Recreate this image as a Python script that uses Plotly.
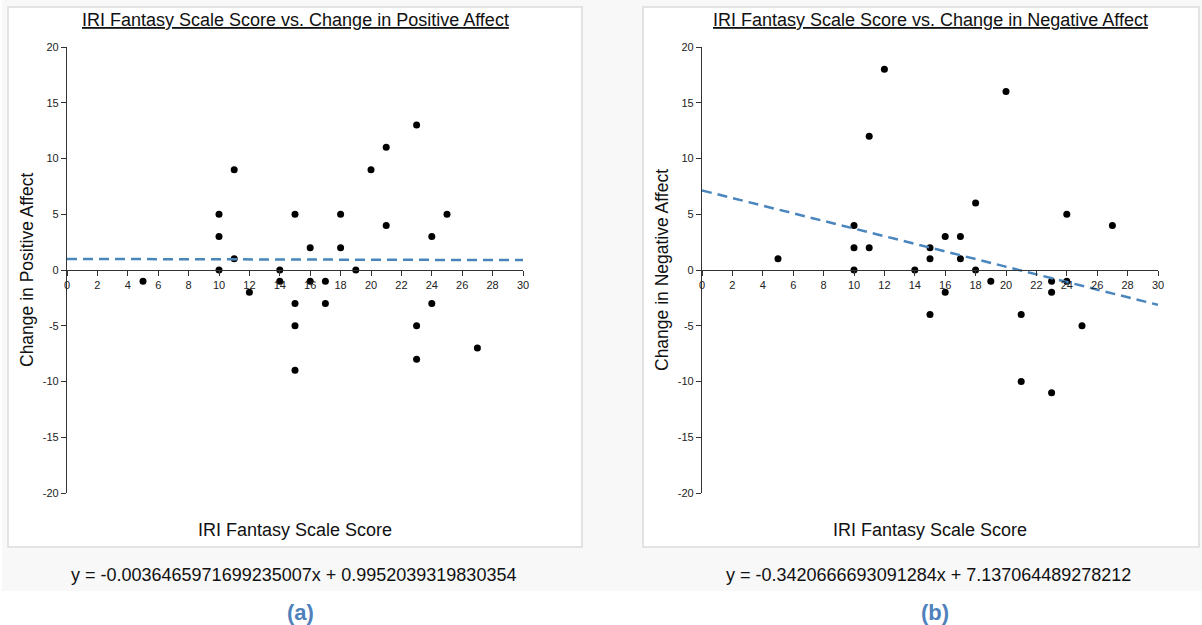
import plotly.graph_objects as go

W, H = 1202, 625

# IRI Fantasy Scale scores and change in positive affect
pos_x = [5, 10, 10, 10, 11, 11, 12, 14, 14, 15, 15, 15, 15, 16, 16,
         17, 17, 18, 18, 19, 20, 21, 21, 23, 23, 23, 24, 24, 25, 27]
pos_y = [-1, 5, 3, 0, 9, 1, -2, 0, -1, 5, -3, -5, -9, 2, -1,
         -1, -3, 5, 2, 0, 9, 11, 4, 13, -5, -8, 3, -3, 5, -7]

# IRI Fantasy Scale scores and change in negative affect
neg_x = [5, 10, 10, 10, 11, 11, 12, 14, 15, 15, 15, 16, 16, 17,
         17, 18, 18, 19, 20, 21, 21, 23, 23, 23, 24, 24, 25, 27]
neg_y = [1, 4, 2, 0, 12, 2, 18, 0, 2, 1, -4, 3, -2, 3,
         1, 6, 0, -1, 16, -4, -10, -1, -2, -11, 5, -1, -5, 4]

# least-squares fits
pos_slope, pos_intercept = -0.0036465971699235007, 0.9952039319830354
neg_slope, neg_intercept = -0.3420666693091284, 7.137064489278212

x_ticks = list(range(0, 31, 2))
y_ticks = list(range(-20, 21, 5))
x_tick_text = [str(v) for v in x_ticks]
y_tick_text = [str(v) for v in y_ticks]

FONT = "Liberation Sans, Arial, Helvetica, sans-serif"


def px(x):
    return x / W


def py(y):
    return 1 - y / H


fig = go.Figure()

panels = [
    dict(xs=pos_x, ys=pos_y, slope=pos_slope, icpt=pos_intercept,
         title="IRI Fantasy Scale Score vs. Change in Positive Affect",
         ytitle="Change in Positive Affect", label="(a)",
         ax0=67, ax1=523, box=(8, 582), center=295, ytx=27),
    dict(xs=neg_x, ys=neg_y, slope=neg_slope, icpt=neg_intercept,
         title="IRI Fantasy Scale Score vs. Change in Negative Affect",
         ytitle="Change in Negative Affect", label="(b)",
         ax0=702, ax1=1158, box=(643, 1199), center=930, ytx=662),
]

y_top, y_bot, y_zero = 47, 493, 270

shapes = [
    # light backdrop behind both panels and equations
    dict(type="rect", xref="paper", yref="paper", x0=px(2), x1=px(1202),
         y0=py(591), y1=py(0), fillcolor="#f8f8f8", line=dict(width=0), layer="below"),
]
annotations = []


def note(text, x, y, size, color="#111", angle=0):
    return dict(text=text, x=px(x), y=py(y), xref="paper", yref="paper",
                xanchor="center", yanchor="middle", showarrow=False,
                textangle=angle, font=dict(family=FONT, size=size, color=color))


for i, p in enumerate(panels):
    suffix = "" if i == 0 else "2"
    xa, ya = "x" + suffix, "y" + suffix
    fig.add_trace(go.Scatter(
        x=p["xs"], y=p["ys"], mode="markers",
        marker=dict(color="black", size=7, line=dict(width=0)),
        xaxis=xa, yaxis=ya, showlegend=False, cliponaxis=False,
    ))
    fx = [0, 30]
    fy = [p["slope"] * v + p["icpt"] for v in fx]
    fig.add_trace(go.Scatter(
        x=fx, y=fy, mode="lines",
        line=dict(color="#4a86bd", width=2.5, dash="10px,6px"),
        xaxis=xa, yaxis=ya, showlegend=False,
    ))

    tick_font = dict(family=FONT, size=11, color="#222")
    fig.layout["xaxis" + suffix] = dict(
        domain=[px(p["ax0"]), px(p["ax1"])], range=[0, 30],
        anchor="free", position=py(y_zero), automargin=False,
        tickmode="array", tickvals=x_ticks, ticktext=x_tick_text,
        ticks="outside", ticklen=5, tickcolor="#333",
        showline=True, linecolor="#333", linewidth=1.2,
        showgrid=False, zeroline=False, tickfont=tick_font, fixedrange=True,
    )
    fig.layout["yaxis" + suffix] = dict(
        domain=[py(y_bot), py(y_top)], range=[-20, 20],
        anchor=xa, automargin=False,
        tickmode="array", tickvals=y_ticks, ticktext=y_tick_text,
        ticks="outside", ticklen=5, tickcolor="#333",
        showline=True, linecolor="#333", linewidth=1.2,
        showgrid=False, zeroline=False, tickfont=tick_font, fixedrange=True,
    )

    b0, b1 = p["box"]
    shapes.append(dict(type="rect", xref="paper", yref="paper",
                       x0=px(b0), x1=px(b1), y0=py(547), y1=py(7),
                       fillcolor="white", line=dict(color="#dcdcdc", width=1.5),
                       layer="below"))

    annotations += [
        note("<u>" + p["title"] + "</u>", p["center"], 20, 18),
        note(p["ytitle"], p["ytx"], 270, 17.5, angle=-90),
        note("IRI Fantasy Scale Score", p["center"], 530, 18),
        note(f"y = {p['slope']!r}x + {p['icpt']!r}", p["center"] - 2, 575, 18),
        note("<b>" + p["label"] + "</b>", p["center"] + 5, 612, 22, color="#4f81bd"),
    ]

fig.update_layout(
    template="none",
    width=W, height=H, autosize=False,
    margin=dict(l=0, r=0, t=0, b=0, pad=0),
    paper_bgcolor="white", plot_bgcolor="rgba(0,0,0,0)",
    shapes=shapes, annotations=annotations,
)

fig.write_html("out.html")
